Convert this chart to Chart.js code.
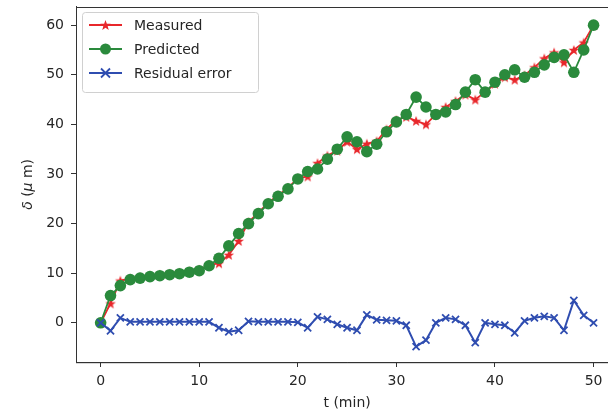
<!DOCTYPE html>
<html>
<head>
<meta charset="utf-8">
<script src="https://cdn.jsdelivr.net/npm/chart.js@4/dist/chart.umd.min.js"></script>
<style>
  html, body { margin: 0; padding: 0; overflow: hidden; background: #fff; }
</style>
</head>
<body>
<canvas id="chart" width="625" height="414"></canvas>
<script>
// data
const minutes = [0, 1, 2, 3, 4, 5, 6, 7, 8, 9, 10, 11, 12, 13, 14, 15, 16, 17, 18, 19, 20,
  21, 22, 23, 24, 25, 26, 27, 28, 29, 30, 31, 32, 33, 34, 35, 36, 37, 38, 39, 40,
  41, 42, 43, 44, 45, 46, 47, 48, 49, 50];
const measured = [0, 3.9, 8.5, 8.9, 9.2, 9.5, 9.7, 9.9, 10.1, 10.4, 10.7, 11.7, 12, 13.7, 16.5,
  20.3, 22.2, 24.2, 25.7, 27.2, 29.1, 29.5, 32.2, 33.7, 34.7, 36.5, 35, 36.1, 36.6, 39, 40.9,
  41.5, 40.7, 40, 42, 43.5, 44.7, 46, 45, 46.5, 48.2, 49.5, 49, 49.9, 51.5, 53.3, 54.5, 52.5,
  55, 56.5, 60];
const predicted = [0, 5.5, 7.5, 8.7, 9, 9.3, 9.5, 9.7, 9.9, 10.2, 10.5, 11.5, 13, 15.5, 18,
  20, 22, 24, 25.5, 27, 29, 30.5, 31, 33, 35, 37.5, 36.5, 34.5, 36, 38.5, 40.5,
  42, 45.5, 43.5, 42, 42.5, 44, 46.5, 49, 46.5, 48.5, 50, 51, 49.5, 50.5, 52, 53.5, 54,
  50.5, 55, 60];
const residual = [0, -1.6, 1, 0.2, 0.2, 0.2, 0.2, 0.2, 0.2, 0.2, 0.2, 0.2, -1, -1.8, -1.5,
  0.3, 0.2, 0.2, 0.2, 0.2, 0.1, -1, 1.2, 0.7, -0.3, -1, -1.5, 1.6, 0.6, 0.5, 0.4,
  -0.5, -4.8, -3.5, 0, 1, 0.7, -0.5, -4, 0, -0.3, -0.5, -2, 0.4, 1, 1.3, 1, -1.5,
  4.5, 1.5, 0];
const xTicks = [0, 10, 20, 30, 40, 50];
const yTicks = [0, 10, 20, 30, 40, 50, 60];

const RED = "#e8272b";
const GREEN = "#2a8a3c";
const BLUE = "#2f4db0";
const FONT = "'DejaVu Sans', sans-serif";

function points(ys) {
  return minutes.map((t, i) => ({ x: t, y: ys[i] }));
}

function starPath(ctx, cx, cy, r) {
  ctx.beginPath();
  for (let k = 0; k < 10; k++) {
    const rr = k % 2 === 0 ? r : r * 0.42;
    const a = -Math.PI / 2 + (k * Math.PI) / 5;
    const px = cx + rr * Math.cos(a);
    const py = cy + rr * Math.sin(a);
    if (k === 0) ctx.moveTo(px, py);
    else ctx.lineTo(px, py);
  }
  ctx.closePath();
}

// filled star marker like matplotlib '*'
const starImg = document.createElement("canvas");
starImg.width = 12;
starImg.height = 12;
(function () {
  const c = starImg.getContext("2d");
  starPath(c, 6, 6.5, 5.5);
  c.fillStyle = RED;
  c.fill();
})();

const legendPlugin = {
  id: "boxLegend",
  afterDraw(chart) {
    const ctx = chart.ctx;
    ctx.save();
    // legend box
    const bx = 82.5, by = 12.5, bw = 176, bh = 80, r = 3;
    ctx.beginPath();
    ctx.moveTo(bx + r, by);
    ctx.arcTo(bx + bw, by, bx + bw, by + bh, r);
    ctx.arcTo(bx + bw, by + bh, bx, by + bh, r);
    ctx.arcTo(bx, by + bh, bx, by, r);
    ctx.arcTo(bx, by, bx + bw, by, r);
    ctx.closePath();
    ctx.fillStyle = "rgba(255,255,255,0.85)";
    ctx.fill();
    ctx.strokeStyle = "#d0d0d0";
    ctx.lineWidth = 1;
    ctx.stroke();

    const items = [
      { label: "Measured", color: RED, mark: "star" },
      { label: "Predicted", color: GREEN, mark: "circle" },
      { label: "Residual error", color: BLUE, mark: "cross" },
    ];
    items.forEach((it, i) => {
      const y = 25 + i * 24;
      ctx.strokeStyle = it.color;
      ctx.lineWidth = 2;
      ctx.beginPath();
      ctx.moveTo(89, y);
      ctx.lineTo(122, y);
      ctx.stroke();
      const mx = 105.5;
      if (it.mark === "star") {
        ctx.fillStyle = it.color;
        starPath(ctx, mx, y + 0.5, 5.5);
        ctx.fill();
      } else if (it.mark === "circle") {
        ctx.fillStyle = it.color;
        ctx.beginPath();
        ctx.arc(mx, y, 5.5, 0, Math.PI * 2);
        ctx.fill();
      } else {
        ctx.lineWidth = 1.8;
        ctx.beginPath();
        ctx.moveTo(mx - 4.5, y - 4.5);
        ctx.lineTo(mx + 4.5, y + 4.5);
        ctx.moveTo(mx + 4.5, y - 4.5);
        ctx.lineTo(mx - 4.5, y + 4.5);
        ctx.stroke();
      }
      ctx.fillStyle = "#262626";
      ctx.font = "14px " + FONT;
      ctx.textBaseline = "middle";
      ctx.textAlign = "left";
      ctx.fillText(it.label, 134, y + 1);
    });
    ctx.restore();
  },
};

const framePlugin = {
  id: "frame",
  afterDraw(chart) {
    const { ctx, chartArea: a } = chart;
    ctx.save();
    ctx.strokeStyle = "#333";
    ctx.lineWidth = 1;
    ctx.strokeRect(Math.round(a.left) + 0.5, Math.round(a.top) + 0.5,
      a.right - a.left, a.bottom - a.top);

    // axis titles
    ctx.fillStyle = "#262626";
    ctx.font = "14px " + FONT;
    ctx.textAlign = "center";
    ctx.textBaseline = "middle";
    ctx.fillText("t (min)", (a.left + a.right) / 2, 403);

    // rotated y title with italic greek letters
    const parts = [
      { t: "δ", it: true },
      { t: " (", it: false },
      { t: "μ", it: true },
      { t: " m)", it: false },
    ];
    let total = 0;
    parts.forEach((p) => {
      ctx.font = (p.it ? "italic " : "") + "14px " + FONT;
      p.w = ctx.measureText(p.t).width;
      total += p.w;
    });
    ctx.translate(28, (a.top + a.bottom) / 2);
    ctx.rotate(-Math.PI / 2);
    ctx.textAlign = "left";
    let x = -total / 2;
    parts.forEach((p) => {
      ctx.font = (p.it ? "italic " : "") + "14px " + FONT;
      ctx.fillText(p.t, x, 0);
      x += p.w;
    });
    ctx.restore();
  },
};

new Chart(document.getElementById("chart").getContext("2d"), {
  type: "line",
  data: {
    datasets: [
      {
        label: "Measured",
        data: points(measured),
        borderColor: RED,
        backgroundColor: RED,
        borderWidth: 1.8,
        pointStyle: starImg,
        pointRadius: 5,
        order: 3,
      },
      {
        label: "Predicted",
        data: points(predicted),
        borderColor: GREEN,
        backgroundColor: GREEN,
        pointBorderColor: GREEN,
        borderWidth: 1.8,
        pointStyle: "circle",
        pointRadius: 5.8,
        pointBorderWidth: 0,
        order: 2,
      },
      {
        label: "Residual error",
        data: points(residual),
        borderColor: BLUE,
        backgroundColor: BLUE,
        borderWidth: 2,
        pointStyle: "crossRot",
        pointRadius: 5,
        pointBorderWidth: 1.8,
        order: 1,
      },
    ],
  },
  options: {
    responsive: false,
    animation: false,
    layout: { padding: { left: 0, top: 5, right: 6.3, bottom: 0 } },
    plugins: {
      legend: { display: false },
      tooltip: { enabled: false },
    },
    elements: { line: { tension: 0 } },
    scales: {
      x: {
        type: "linear",
        min: -2.5,
        max: 52.5,
        afterBuildTicks: (scale) => {
          scale.ticks = xTicks.map((v) => ({ value: v }));
        },
        afterFit: (scale) => {
          scale.height = 52;
          scale.paddingLeft = 0;
          scale.paddingRight = 0;
        },
        grid: {
          drawOnChartArea: false,
          drawTicks: true,
          tickLength: 5,
          color: "#333",
        },
        border: { display: true, color: "#333" },
        ticks: {
          padding: 6,
          color: "#262626",
          font: { family: FONT, size: 14 },
          maxRotation: 0,
        },
      },
      y: {
        min: -7.9,
        max: 63.7,
        afterBuildTicks: (scale) => {
          scale.ticks = yTicks.map((v) => ({ value: v }));
        },
        afterFit: (scale) => {
          scale.width = 76;
          scale.paddingTop = 0;
          scale.paddingBottom = 0;
        },
        grid: {
          drawOnChartArea: false,
          drawTicks: true,
          tickLength: 5,
          color: "#333",
        },
        border: { display: true, color: "#333" },
        ticks: {
          padding: 7,
          color: "#262626",
          font: { family: FONT, size: 14 },
        },
      },
    },
  },
  plugins: [framePlugin, legendPlugin],
});
</script>
</body>
</html>
